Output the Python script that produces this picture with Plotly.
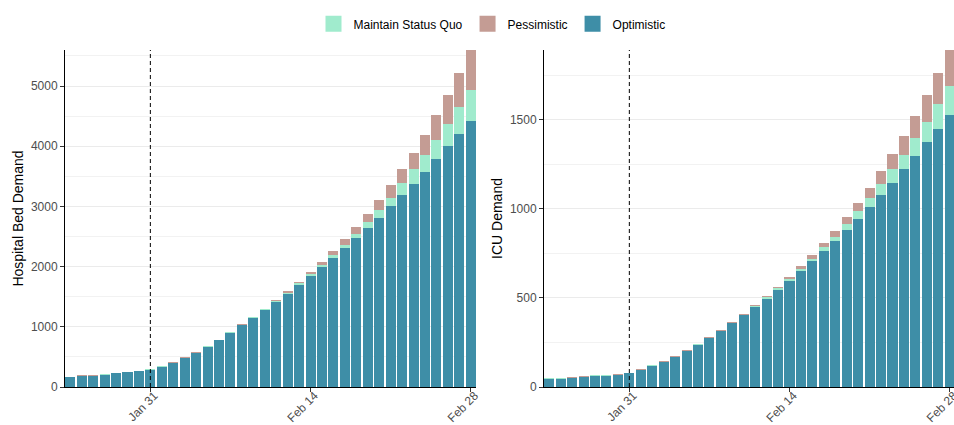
import pandas as pd
import plotly.graph_objects as go

dates = pd.date_range("2020-01-24", "2020-02-28", freq="D")
vline_date = "2020-01-31"
tick_dates = ["2020-01-31", "2020-02-14", "2020-02-28"]
tick_labels = ["Jan 31", "Feb 14", "Feb 28"]
series_names = ["Maintain Status Quo", "Pessimistic", "Optimistic"]

hosp_optimistic = [166, 188, 188, 205, 227, 244, 260, 288, 338, 404, 487, 570, 670, 781, 903,
                   1024, 1152, 1285, 1417, 1550, 1700, 1849, 1999, 2148, 2314, 2481, 2647, 2813,
                   3001, 3195, 3378, 3577, 3782, 3998, 4197, 4419]
hosp_status_quo = [169, 191, 191, 208, 230, 247, 263, 291, 341, 407, 490, 573, 673, 784, 907,
                   1035, 1158, 1292, 1428, 1567, 1722, 1871, 2032, 2193, 2364, 2547, 2746, 2946,
                   3145, 3383, 3616, 3848, 4103, 4363, 4651, 4933]
hosp_pessimistic = [172, 194, 194, 211, 233, 250, 266, 294, 344, 410, 494, 577, 677, 788, 911,
                    1046, 1168, 1301, 1440, 1589, 1744, 1905, 2076, 2259, 2453, 2652, 2874, 3106,
                    3350, 3621, 3881, 4180, 4513, 4850, 5216, 5598]

icu_optimistic = [47, 47, 52, 58, 64, 64, 69, 77, 97, 120, 142, 170, 204, 238, 277, 316, 361,
                  404, 451, 496, 547, 597, 654, 710, 766, 822, 884, 946, 1013, 1081, 1148, 1223,
                  1296, 1375, 1448, 1530]
icu_status_quo = [48, 48, 53, 59, 65, 65, 70, 78, 98, 121, 143, 171, 205, 239, 278, 317, 362,
                  407, 455, 504, 554, 609, 665, 721, 787, 845, 916, 989, 1062, 1140, 1227, 1302,
                  1399, 1489, 1590, 1691]
icu_pessimistic = [49, 49, 54, 60, 66, 66, 71, 79, 99, 122, 144, 172, 206, 240, 279, 318, 364,
                   410, 459, 511, 562, 616, 678, 740, 809, 875, 953, 1034, 1118, 1212, 1309, 1408,
                   1521, 1640, 1764, 1893]

colors = {"Maintain Status Quo": "#A0EBCD", "Pessimistic": "#C49C94", "Optimistic": "#3E8EA7"}

DAY_MS = 86400000
bar_width = 0.88 * DAY_MS

W, H = 954, 425

fig = go.Figure()

panels = [
    ("x", "y", {"Pessimistic": hosp_pessimistic, "Maintain Status Quo": hosp_status_quo,
                "Optimistic": hosp_optimistic}),
    ("x2", "y2", {"Pessimistic": icu_pessimistic, "Maintain Status Quo": icu_status_quo,
                  "Optimistic": icu_optimistic}),
]
for xa, ya, d in panels:
    for name in ["Pessimistic", "Maintain Status Quo", "Optimistic"]:
        fig.add_trace(go.Bar(x=dates, y=d[name], width=bar_width, name=name,
                             marker=dict(color=colors[name], line=dict(width=0)),
                             xaxis=xa, yaxis=ya, showlegend=False))

for name in series_names:
    fig.add_trace(go.Scatter(x=[None], y=[None], mode="markers", name=name,
                             marker=dict(symbol="square", size=20, color=colors[name]),
                             xaxis="x", yaxis="y", showlegend=True))

common_x = dict(type="date", tickvals=tick_dates, ticktext=tick_labels,
                tickangle=-45, ticks="outside", ticklen=4, tickcolor="#333333",
                showline=True, linecolor="black", linewidth=1, showgrid=False,
                zeroline=False, automargin=False, ticklabelstandoff=-8, ticklabelshift=4,
                ticklabeloverflow="allow",
                tickfont=dict(family="Liberation Sans, Arial", size=12, color="#4D4D4D"))
common_y = dict(ticks="outside", ticklen=4, tickcolor="#333333", showline=True,
                linecolor="black", linewidth=1, showgrid=True, gridcolor="#EBEBEB",
                gridwidth=1, zeroline=False, automargin=False,
                tickfont=dict(family="Liberation Sans, Arial", size=12, color="#4D4D4D"),
                title_font=dict(family="Liberation Sans, Arial", size=14, color="black"),
                title_standoff=3)

fig.update_layout(
    width=W, height=H,
    margin=dict(l=0, r=0, t=50, b=38, autoexpand=False),
    plot_bgcolor="white", paper_bgcolor="white",
    barmode="overlay", bargap=0,
    font=dict(family="Liberation Sans, Arial", size=12, color="black"),
    showlegend=True,
    legend=dict(orientation="h", x=492 / W, xanchor="center", y=0.978, yanchor="top",
                yref="container", font=dict(size=12), itemwidth=30, tracegroupgap=0),
    xaxis=dict(domain=[65 / W, 476 / W], anchor="y",
               range=["2020-01-23 13:00", "2020-02-28 11:00"], **common_x),
    xaxis2=dict(domain=[544 / W, 1.0], anchor="y2",
                range=["2020-01-23 13:00", "2020-02-28 09:00"], **common_x),
    yaxis=dict(domain=[0, 1], anchor="x", range=[0, max(hosp_pessimistic)], dtick=1000,
               title_text="Hospital Bed Demand",
               minor=dict(showgrid=True, gridcolor="#F2F2F2", dtick=500, ticks=""), **common_y),
    yaxis2=dict(domain=[0, 1], anchor="x2", range=[0, max(icu_pessimistic)], dtick=500,
                title_text="ICU Demand",
                minor=dict(showgrid=True, gridcolor="#F2F2F2", dtick=250, ticks=""), **common_y),
)

for xr, yr in [("x", "y domain"), ("x2", "y2 domain")]:
    fig.add_shape(type="line", x0=vline_date, x1=vline_date, y0=0, y1=1, xref=xr, yref=yr,
                  line=dict(color="black", width=1, dash="4px,3px"), layer="above")

fig.write_html("out.html", config={"displayModeBar": False},
               post_script="document.body.style.margin='0';document.body.style.overflow='hidden';")
